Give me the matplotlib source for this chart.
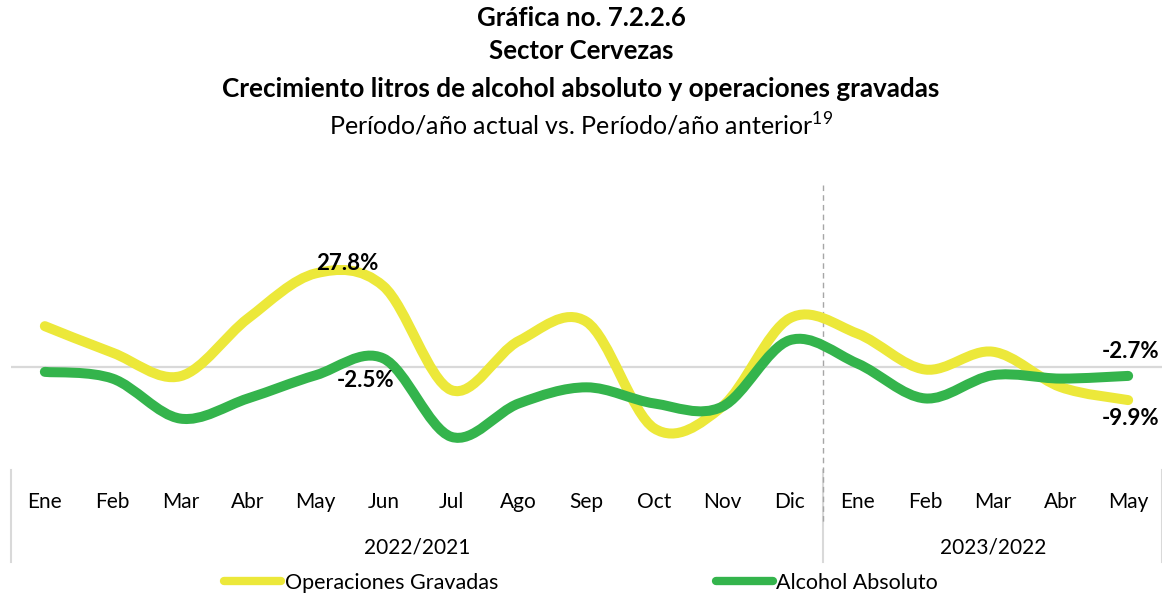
import numpy as np
import matplotlib.pyplot as plt
from matplotlib.path import Path
from matplotlib.patches import PathPatch
from matplotlib.lines import Line2D
from matplotlib.transforms import blended_transform_factory

plt.rcParams['font.family'] = ['Lato', 'DejaVu Sans']
plt.rcParams['mathtext.fontset'] = 'custom'
plt.rcParams['mathtext.rm'] = 'Lato'

months = ['Ene', 'Feb', 'Mar', 'Abr', 'May', 'Jun', 'Jul', 'Ago', 'Sep', 'Oct',
          'Nov', 'Dic', 'Ene', 'Feb', 'Mar', 'Abr', 'May']
periods = ['2022/2021', '2023/2022']
period_len = [12, 5]

# growth vs same month of previous year, %
operaciones = [12.1, 4.2, -2.8, 14.4, 27.8, 24.0, -6.9, 7.7, 13.4, -18.3,
               -11.9, 14.4, 9.9, -0.8, 4.5, -6.0, -9.9]
alcohol = [-1.5, -3.5, -15.4, -9.4, -2.5, 2.5, -20.8, -10.9, -6.1, -10.9,
           -11.9, 7.9, 1.0, -9.4, -2.5, -3.5, -2.7]

YELLOW = '#ECE83A'
GREEN = '#34B44C'
W, H = 1162, 594


def smooth_path(y):
    # cubic bezier through every point, like Excel's "smoothed line"
    x = np.arange(len(y), dtype=float)
    y = np.asarray(y, dtype=float)
    pts = np.column_stack([x, y])
    verts = [pts[0]]
    codes = [Path.MOVETO]
    n = len(pts)
    for i in range(n - 1):
        p0 = pts[max(i - 1, 0)]
        p1 = pts[i]
        p2 = pts[i + 1]
        p3 = pts[min(i + 2, n - 1)]
        c1 = p1 + (p2 - p0) / 6.0
        c2 = p2 - (p3 - p1) / 6.0
        verts += [c1, c2, p2]
        codes += [Path.CURVE4] * 3
    return Path(verts, codes)


fig = plt.figure(figsize=(W / 100, H / 100), dpi=100)
ax = fig.add_axes([11 / W, 1 - 468 / H, (W - 11) / W, (468 - 188) / H])
ax.set_xlim(-0.5, len(months) - 0.5)
ax.set_ylim(-30.1, 53.2)
ax.axis('off')

ax.axhline(0, color='#d9d9d9', lw=1.6, zorder=1)

for vals, col in [(operaciones, YELLOW), (alcohol, GREEN)]:
    ax.add_patch(PathPatch(smooth_path(vals), facecolor='none', edgecolor=col,
                           lw=7.2, capstyle='round', joinstyle='round', zorder=3))

# data labels
lab = dict(fontsize=16, fontweight='bold', ha='center', va='center', zorder=5)
ax.annotate(f'{operaciones[4]:.1f}%', (4, operaciones[4]), xytext=(32, 10),
            textcoords='offset pixels', **lab)
ax.annotate(f'{alcohol[4]:.1f}%', (4, alcohol[4]), xytext=(50, -5),
            textcoords='offset pixels', **lab)
ax.annotate(f'{alcohol[-1]:.1f}%', (16, alcohol[-1]), xytext=(2, 24),
            textcoords='offset pixels', **lab)
ax.annotate(f'{operaciones[-1]:.1f}%', (16, operaciones[-1]), xytext=(2, -18),
            textcoords='offset pixels', **lab)

# category axis drawn by hand: months, then year groups with separators
tr = blended_transform_factory(ax.transData, fig.transFigure)
for i, m in enumerate(months):
    ax.text(i, 1 - 502 / H, m, transform=tr, ha='center', va='center', fontsize=15)

start = 0
bounds = [-0.5]
for name, n in zip(periods, period_len):
    ax.text(start + (n - 1) / 2, 1 - 548 / H, name, transform=tr,
            ha='center', va='center', fontsize=15)
    start += n
    bounds.append(start - 0.5)
for b in bounds:
    ax.add_line(Line2D([b, b], [1 - 470 / H, 1 - 562 / H], transform=tr,
                       color='#d9d9d9', lw=1.5, clip_on=False))

# year break
ax.add_line(Line2D([11.5, 11.5], [1 - 185 / H, 1 - 525 / H], transform=tr,
                   color='#a6a6a6', lw=1, ls=(0, (4, 3)), clip_on=False))

# titles
fig.text(0.5, 1 - 18 / H, 'Gráfica no. 7.2.2.6', ha='center', va='center',
         fontsize=18.5, fontweight='bold')
fig.text(0.5, 1 - 51 / H, 'Sector Cervezas', ha='center', va='center',
         fontsize=18.5, fontweight='bold')
fig.text(0.5, 1 - 89 / H, 'Crecimiento litros de alcohol absoluto y operaciones gravadas',
         ha='center', va='center', fontsize=18.8, fontweight='bold')
fig.text(0.5, 1 - 125 / H, 'Período/año actual vs. Período/año anterior$^{\\mathrm{19}}$',
         ha='center', va='center', fontsize=18)

handles = [Line2D([], [], color=YELLOW, lw=6, solid_capstyle='round'),
           Line2D([], [], color=GREEN, lw=6, solid_capstyle='round')]
fig.legend(handles, ['Operaciones Gravadas', 'Alcohol Absoluto'], ncol=2,
           loc='center', bbox_to_anchor=(0.5, 1 - 583 / H), frameon=False,
           fontsize=15.5, handlelength=2.65, handletextpad=0.15, columnspacing=10.1)

fig.savefig('out.png', dpi=100)
